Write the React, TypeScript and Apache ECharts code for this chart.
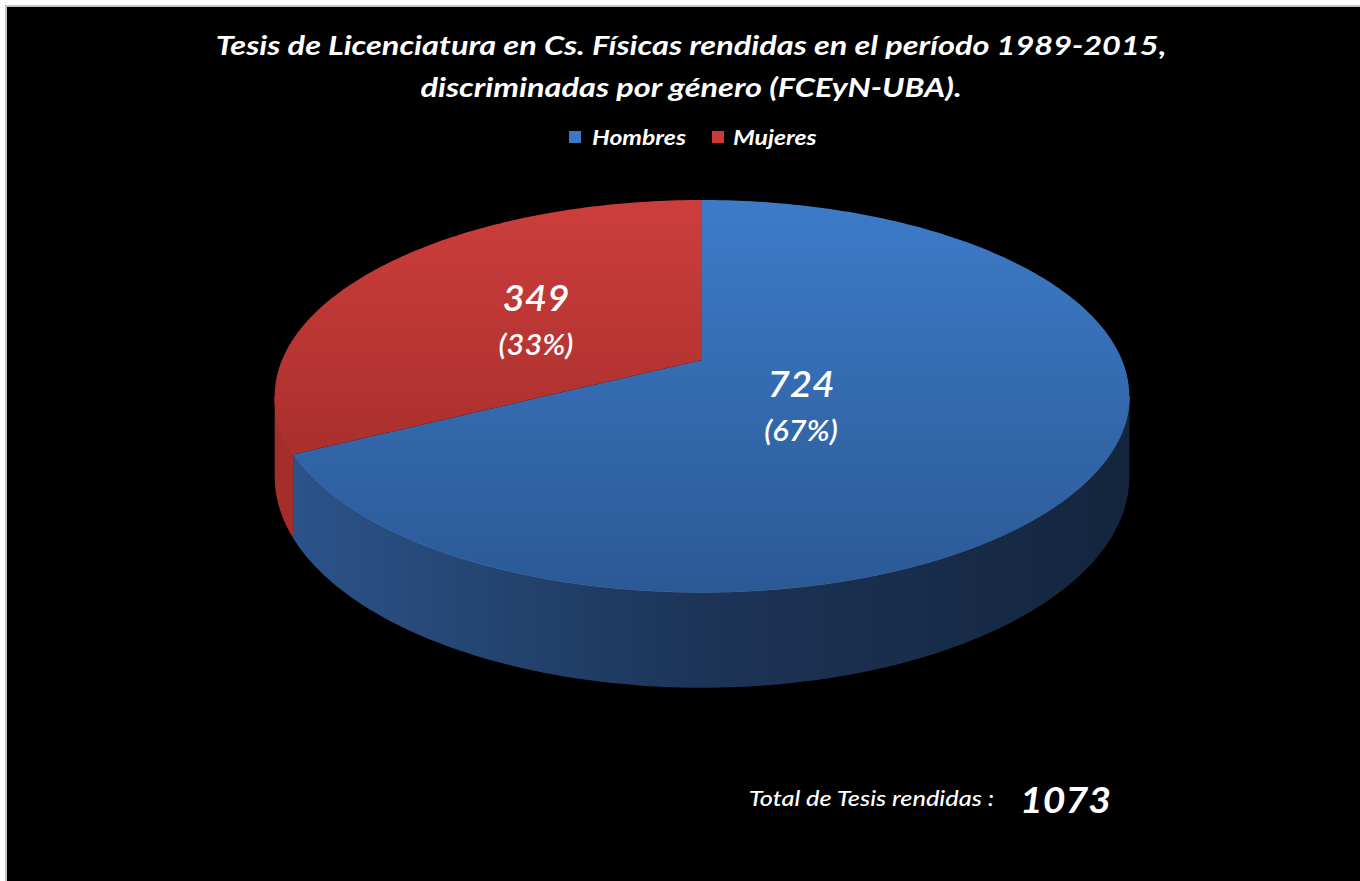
import React, { useEffect, useRef } from "react";
import * as echarts from "echarts";

// ---- data ----
const categories = ["Hombres", "Mujeres"];
const values = [724, 349];
const titleLines = [
  "Tesis de Licenciatura en Cs. Físicas rendidas en el período 1989-2015,",
  "discriminadas por género (FCEyN-UBA).",
];
const totalCaption = "Total de Tesis rendidas :";
const topColors = [
  ["#3D7BC8", "#2B5996"],
  ["#CC3E3B", "#972725"],
];
const sideColors = [
  ["#2C548B", "#1C3457", "#14263E"],
  ["#A52D2A", "#8E2422", "#7A1E1C"],
];
const legendColors = ["#3C78C4", "#C93B39"];

const FONT = "Lato, 'Open Sans', sans-serif";

// geometry of the projected disc (chart coords)
const CX = 695;
const CY = 353;
const RA = 420;
const RB = 189.4;
const PERSP = 0.184;
const DEPTH = 78;

function project(theta: number, r: number, dz: number): [number, number] {
  const u = r * Math.sin(theta);
  const v = -r * Math.cos(theta);
  const f = 1 / (1 - PERSP * v);
  return [CX + RA * u * f, CY + RB * v * f + DEPTH * dz * f];
}

const total = values.reduce((s, v) => s + v, 0);
const starts: number[] = [];
{
  let acc = 0;
  for (const v of values) {
    starts.push(acc);
    acc += v;
  }
}

const visMin = Math.acos(-PERSP);
const visMax = 2 * Math.PI - visMin;

function arcPts(t0: number, t1: number, dz: number): [number, number][] {
  const n = Math.max(2, Math.ceil(((t1 - t0) * 180) / Math.PI));
  const pts: [number, number][] = [];
  for (let i = 0; i <= n; i++) {
    const t = t0 + ((t1 - t0) * i) / n;
    pts.push(project(t, 1, dz));
  }
  return pts;
}

function angles(idx: number) {
  const t0 = (starts[idx] / total) * 2 * Math.PI;
  const t1 = ((starts[idx] + values[idx]) / total) * 2 * Math.PI;
  return [t0, t1];
}

// label placement inside each slice (radius fraction, angular shift in degrees)
const labelRadius = [0.324, 0.466];
const labelShiftDeg = [14.4, -3.4];

function renderSide(params: any, api: any) {
  const idx = params.dataIndex;
  const [t0, t1] = angles(idx);
  const a = Math.max(t0, visMin);
  const b = Math.min(t1, visMax);
  if (b <= a) return { type: "group", children: [] };
  const top = arcPts(a, b, 0);
  const bot = arcPts(a, b, 1).reverse();
  const cs = sideColors[idx];
  return {
    type: "group",
    children: [
      {
        type: "polygon",
        shape: { points: top.concat(bot) },
        style: {
          fill: {
            type: "linear",
            x: CX - RA,
            y: 0,
            x2: CX + RA,
            y2: 0,
            global: true,
            colorStops: [
              { offset: 0, color: cs[0] },
              { offset: 0.5, color: cs[1] },
              { offset: 1, color: cs[2] },
            ],
          },
          stroke: null,
        },
      },
      {
        type: "polyline",
        shape: { points: top },
        style: { stroke: idx === 0 ? "rgba(90,150,225,0.7)" : "rgba(220,90,80,0.6)", lineWidth: 1, fill: null },
      },
    ],
  };
}

function renderTop(params: any, api: any) {
  const idx = params.dataIndex;
  const [t0, t1] = angles(idx);
  const pts = [project(0, 0, 0) as [number, number]].concat(arcPts(t0, t1, 0));
  const cs = topColors[idx];
  const mid = (t0 + t1) / 2 + (labelShiftDeg[idx] * Math.PI) / 180;
  const [lx, ly] = project(mid, labelRadius[idx], 0);
  const val = api.value(0);
  const pct = Math.round((val / total) * 100);
  return {
    type: "group",
    children: [
      {
        type: "polygon",
        shape: { points: pts },
        style: {
          fill: {
            type: "linear",
            x: 0,
            y: CY - RB / (1 + PERSP),
            x2: 0,
            y2: CY + RB / (1 - PERSP),
            global: true,
            colorStops: [
              { offset: 0, color: cs[0] },
              { offset: 1, color: cs[1] },
            ],
          },
          stroke: null,
        },
      },
      {
        type: "text",
        x: lx,
        y: ly - 23,
        scaleX: 1.04,
        style: {
          text: String(val),
          fill: "#ffffff",
          font: `italic 600 37px ${FONT}`,
          align: "center",
          verticalAlign: "middle",
        },
      },
      {
        type: "text",
        x: lx,
        y: ly + 24,
        scaleX: 1.06,
        style: {
          text: `(${pct}%)`,
          fill: "#ffffff",
          font: `italic 600 29px ${FONT}`,
          align: "center",
          verticalAlign: "middle",
        },
      },
    ],
  };
}

export default function App() {
  const ref = useRef<HTMLDivElement>(null);
  useEffect(() => {
    if (!ref.current) return;
    const chart = echarts.init(ref.current, null, { renderer: "svg" });
    const data = values.map((v, i) => ({ name: categories[i], value: v }));
    const legendX = [562, 705];
    const legendTextX = [585, 726];
    chart.setOption({
      animation: false,
      backgroundColor: "#000000",
      series: [
        {
          type: "custom",
          name: "side",
          coordinateSystem: "none",
          renderItem: renderSide,
          data,
          z: 1,
          silent: true,
        },
        {
          type: "custom",
          name: "top",
          coordinateSystem: "none",
          renderItem: renderTop,
          data,
          z: 2,
          silent: true,
        },
      ],
      graphic: [
        ...titleLines.map((t, i) => ({
          type: "text",
          x: 684,
          y: 38 + i * 42,
          scaleX: 1.25,
          style: {
            text: t,
            fill: "#ffffff",
            font: `italic bold 26px ${FONT}`,
            align: "center",
            verticalAlign: "middle",
          },
        })),
        ...categories.flatMap((c, i) => [
          {
            type: "rect",
            shape: { x: legendX[i], y: 124, width: 12, height: 12 },
            style: { fill: legendColors[i] },
          },
          {
            type: "text",
            x: legendTextX[i],
            y: 130,
            scaleX: 1.18,
            style: {
              text: c,
              fill: "#ffffff",
              font: `italic bold 21px ${FONT}`,
              align: "left",
              verticalAlign: "middle",
            },
          },
        ]),
        {
          type: "text",
          x: 987,
          y: 791,
          scaleX: 1.15,
          style: {
            text: totalCaption,
            fill: "#ffffff",
            font: `italic 500 22px ${FONT}`,
            align: "right",
            verticalAlign: "middle",
          },
        },
        {
          type: "text",
          x: 1013,
          y: 791,
          scaleX: 1.06,
          style: {
            text: String(total),
            fill: "#ffffff",
            font: `italic bold 37px ${FONT}`,
            align: "left",
            verticalAlign: "middle",
          },
        },
      ],
    });
    return () => chart.dispose();
  }, []);
  return (
    <div
      ref={ref}
      style={{
        position: "fixed",
        left: 7,
        top: 7,
        width: 1360,
        height: 881,
        boxShadow: "-2px -2px 0 #c4c4c4",
      }}
    />
  );
}
